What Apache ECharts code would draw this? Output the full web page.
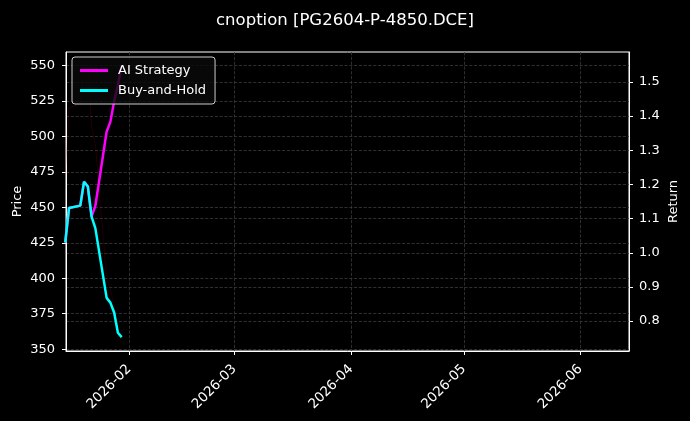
<!DOCTYPE html>
<html>
<head>
<meta charset="utf-8">
<script src="https://cdn.jsdelivr.net/npm/echarts@6/dist/echarts.min.js"></script>
<style>
html,body{margin:0;padding:0;background:#000;}
#c{width:690px;height:421px;}
</style>
</head>
<body>
<div id="c"></div>
<script>
const titleText = 'cnoption [PG2604-P-4850.DCE]';
const dates = ['2026-01-15','2026-01-16','2026-01-19','2026-01-20','2026-01-21','2026-01-22','2026-01-23','2026-01-26','2026-01-27','2026-01-28','2026-01-29','2026-01-30'];
const price = [474, 520, 523, 550, 549, 507, 495, 400, 392, 380, 362, 358];
const aiStrategy = [1.03, 1.131, 1.138, 1.208, 1.194, 1.106, 1.137, 1.354, 1.383, 1.443, 1.49, 1.548];
const buyHold = [1.03, 1.131, 1.138, 1.208, 1.194, 1.106, 1.072, 0.868, 0.854, 0.825, 0.766, 0.753];
const monthTicks = ['2026-02-01','2026-03-01','2026-04-01','2026-05-01','2026-06-01'];
const priceTicks = [350, 375, 400, 425, 450, 475, 500, 525, 550];
const returnTicks = [0.8, 0.9, 1.0, 1.1, 1.2, 1.3, 1.4, 1.5];
const xRange = ['2026-01-15T04:48:00', '2026-06-13T22:00:00'];
const priceRange = [348.7, 559.5];
const returnRange = [0.7125, 1.5875];

const ts = s => new Date(s.length === 10 ? s + 'T00:00:00' : s).getTime();
const monthVals = monthTicks.map(ts);
const pad = n => (n < 10 ? '0' : '') + n;
const FONT = 'DejaVu Sans';
const gridColor = '#3a3a3a';
const FS = 13;

const chart = echarts.init(document.getElementById('c'));
chart.setOption({
  backgroundColor: '#000',
  animation: false,
  textStyle: {fontFamily: FONT},
  title: {
    text: titleText, left: 'center', top: 7,
    textStyle: {color: '#fff', fontSize: 16.5, fontWeight: 'normal', fontFamily: FONT}
  },
  legend: {
    orient: 'vertical', left: 72, top: 57,
    padding: [7, 9, 7, 8], itemGap: 7,
    itemWidth: 28, itemHeight: 3, icon: 'rect',
    backgroundColor: 'rgba(10,10,10,0.8)', borderColor: '#cccccc', borderWidth: 1, borderRadius: 3,
    textStyle: {color: '#fff', fontSize: FS, fontFamily: FONT, padding: [0, 0, 0, 5]},
    data: ['AI Strategy', 'Buy-and-Hold']
  },
  grid: {left: 66, right: 61, top: 52, bottom: 70, outerBoundsMode: 'none', containLabel: false,
    show: true, borderColor: '#fff', borderWidth: 1, backgroundColor: 'transparent'},
  xAxis: {
    type: 'value', min: ts(xRange[0]), max: ts(xRange[1]),
    axisLine: {show: true, lineStyle: {color: '#fff', width: 1}},
    axisTick: {show: true, length: 4, lineStyle: {color: '#fff'}, customValues: monthVals},
    axisLabel: {
      color: '#fff', fontSize: 13.5, fontFamily: FONT, rotate: 45, margin: 16,
      customValues: monthVals,
      formatter: v => { const d = new Date(v); return d.getFullYear() + '-' + pad(d.getMonth() + 1); }
    },
    splitLine: {show: true, lineStyle: {color: gridColor, type: 'dashed', width: 0.8}}
  },
  yAxis: [{
    type: 'value', position: 'left', min: priceRange[0], max: priceRange[1],
    name: 'Price', nameLocation: 'middle', nameGap: 42, nameRotate: 90, nameMoveOverlap: false,
    nameTextStyle: {color: '#fff', fontSize: FS, fontFamily: FONT},
    axisLine: {show: true, lineStyle: {color: '#fff'}},
    axisTick: {show: true, length: 4, lineStyle: {color: '#fff'}, customValues: priceTicks},
    axisLabel: {color: '#fff', fontSize: FS, fontFamily: FONT, margin: 11, customValues: priceTicks},
    splitLine: {show: true, lineStyle: {color: gridColor, type: 'dashed', width: 0.8}}
  }, {
    type: 'value', position: 'right', min: returnRange[0], max: returnRange[1],
    name: 'Return', nameLocation: 'middle', nameGap: 38, nameRotate: 90, nameMoveOverlap: false,
    nameTextStyle: {color: '#fff', fontSize: FS, fontFamily: FONT},
    axisLine: {show: true, lineStyle: {color: '#fff'}},
    axisTick: {show: true, length: 4, lineStyle: {color: '#fff'}, customValues: returnTicks},
    axisLabel: {color: '#fff', fontSize: FS, fontFamily: FONT, margin: 10, customValues: returnTicks,
      formatter: v => v.toFixed(1)},
    splitLine: {show: true, lineStyle: {color: gridColor, type: 'dashed', width: 0.8}}
  }],
  series: [{
    name: 'Price', type: 'line', yAxisIndex: 0, showSymbol: false,
    lineStyle: {color: 'rgba(150,0,0,0.22)', width: 1}, itemStyle: {color: 'rgba(150,0,0,0.22)'},
    data: dates.map((d, i) => [ts(d), price[i]]), z: 1
  }, {
    name: 'AI Strategy', type: 'line', yAxisIndex: 1, showSymbol: false,
    lineStyle: {color: '#ff00ff', width: 2.5}, itemStyle: {color: '#ff00ff'},
    data: dates.map((d, i) => [ts(d), aiStrategy[i]]), z: 2
  }, {
    name: 'Buy-and-Hold', type: 'line', yAxisIndex: 1, showSymbol: false,
    lineStyle: {color: '#00ffff', width: 2.5}, itemStyle: {color: '#00ffff'},
    data: dates.map((d, i) => [ts(d), buyHold[i]]), z: 3
  }]
});
</script>
</body>
</html>
